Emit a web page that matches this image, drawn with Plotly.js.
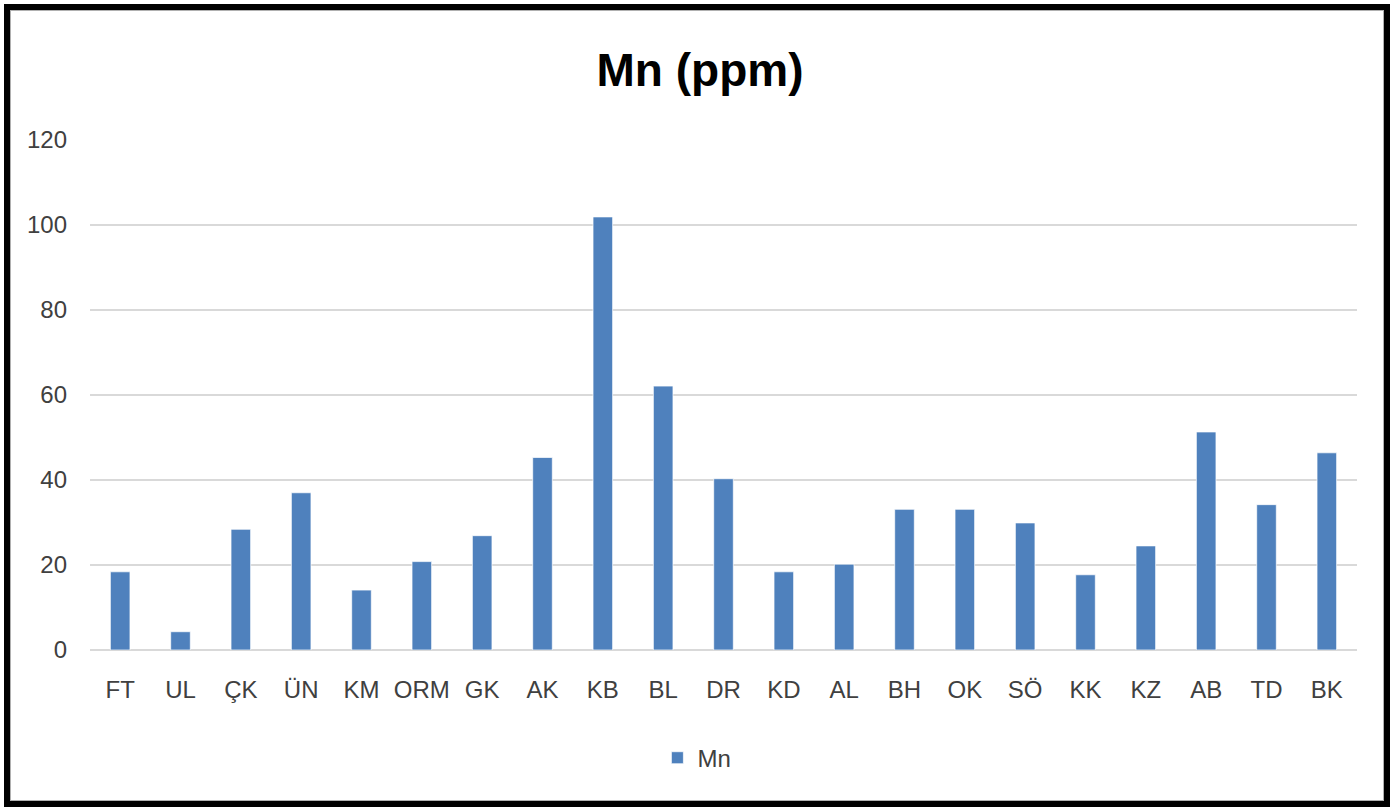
<!DOCTYPE html>
<html>
<head>
<meta charset="utf-8">
<script src="https://cdn.plot.ly/plotly-3.0.1.min.js"></script>
<style>
  html, body { margin: 0; padding: 0; background: #fff; }
  #chart { position: absolute; left: 0; top: 0; width: 1400px; height: 808px; }
  #frame { position: absolute; left: 4px; top: 4px; width: 1386px; height: 803px; box-sizing: border-box;
           border: 6px solid #000; box-shadow: inset 0 0 0 1px #b0b0b0; pointer-events: none; }
</style>
</head>
<body>
<div id="chart"></div>
<div id="frame"></div>
<script>
const categories = ["FT","UL","ÇK","ÜN","KM","ORM","GK","AK","KB","BL","DR","KD","AL","BH","OK","SÖ","KK","KZ","AB","TD","BK"];
const mnValues = [18.4, 4.3, 28.4, 37.0, 14.1, 20.8, 26.9, 45.3, 101.9, 62.1, 40.3, 18.4, 20.2, 33.1, 33.1, 29.9, 17.7, 24.5, 51.3, 34.2, 46.4];
const seriesName = "Mn";
const yTicks = [0, 20, 40, 60, 80, 100, 120];

const font = "Liberation Sans, Arial, sans-serif";

const trace = {
  type: "bar",
  x: categories,
  y: mnValues,
  name: seriesName,
  marker: { color: "#4f81bd", line: { color: "rgba(255,255,255,0.7)", width: 1 } },
  hoverinfo: "x+y"
};

const layout = {
  width: 1400,
  height: 808,
  margin: { l: 90, r: 43, t: 140, b: 158, autoexpand: false },
  paper_bgcolor: "#ffffff",
  plot_bgcolor: "#ffffff",
  font: { family: font, size: 24, color: "#404040" },
  title: {
    text: "<b>Mn (ppm)</b>",
    font: { family: font, size: 46, color: "#000000" },
    x: 0.5, xref: "container", xanchor: "center",
    y: 1 - 70 / 808, yref: "container", yanchor: "middle"
  },
  bargap: 0.675,
  xaxis: {
    type: "category",
    showgrid: false,
    showline: false,
    zeroline: false,
    ticks: "",
    tickangle: 0,
    automargin: false,
    ticklabelstandoff: 23,
    tickfont: { family: font, size: 24, color: "#404040" }
  },
  yaxis: {
    range: [0, 120],
    tickvals: yTicks,
    ticktext: yTicks.map(String),
    automargin: false,
    showgrid: true,
    gridcolor: "#d9d9d9",
    gridwidth: 1.5,
    zeroline: true,
    zerolinecolor: "#d9d9d9",
    zerolinewidth: 1.5,
    showline: false,
    ticks: "",
    ticklabelstandoff: 22,
    tickfont: { family: font, size: 24, color: "#404040" }
  },
  showlegend: true,
  legend: {
    orientation: "h",
    x: 0.479, xanchor: "center",
    y: -0.212, yanchor: "middle",
    font: { family: font, size: 24, color: "#404040" },
    itemwidth: 30
  }
};

Plotly.newPlot("chart", [trace], layout, { displayModeBar: false, staticPlot: true });
</script>
</body>
</html>
